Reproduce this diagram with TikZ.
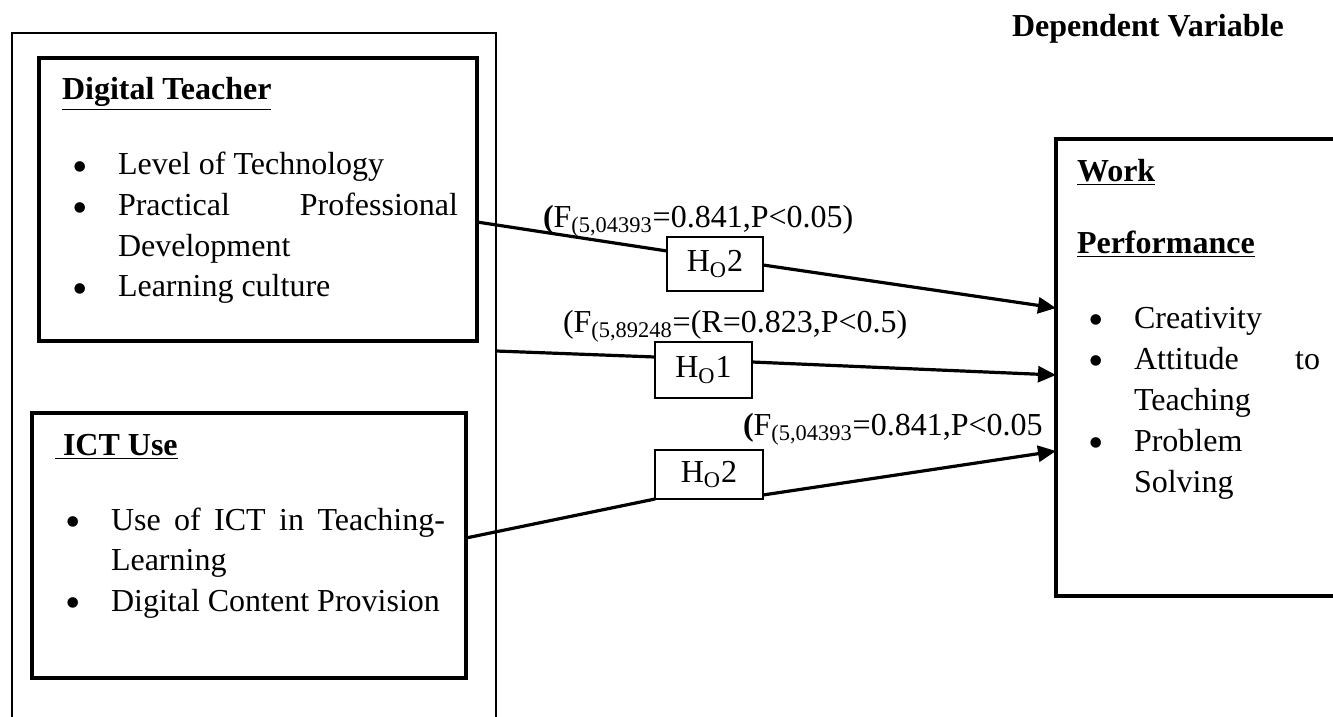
\documentclass[tikz,border=0pt]{standalone}
\usepackage{fontspec}
\setmainfont{Liberation Serif}
\usetikzlibrary{calc}
\usetikzlibrary{arrows.meta}

\newcommand{\itemdot}{\raisebox{-3.3pt}{\fontsize{22}{22}\selectfont\textbullet}}

\begin{document}
\begin{tikzpicture}[
        x=0.5pt, y=-0.5pt,
        every node/.style={inner sep=0pt, outer sep=0pt, font=\fontsize{16}{20.3}\selectfont},
        varbox/.style={draw, line width=1.7pt, anchor=north west},
        heading/.style={anchor=base west, font=\fontsize{16}{20.3}\selectfont\bfseries},
        hyp/.style={draw, line width=0.6pt, fill=white, minimum width=48pt, minimum height=27pt},
        link/.style={line width=1.6pt},
        >={Triangle[length=9pt,width=8pt]}
    ]
        \useasboundingbox (0,0) rectangle (1333,717);
        % frame round the independent variables, open at the bottom
        \node[draw, line width=0.8pt, anchor=north west, minimum width=242pt, minimum height=360pt] (frame) at (12,33) {};
        \node[varbox, minimum width=219pt, minimum height=141.5pt] (dt) at (39,58) {};
        \node[varbox, minimum width=217pt, minimum height=132.5pt] (ict) at (32,413) {};
        \node[varbox, minimum width=150pt, minimum height=228.5pt] (wp) at (1056,139) {};

        \node[heading] (dv) at (1012,37) {Dependent Variable};
        \node[heading] (dttitle) at (62,100) {\underline{Digital Teacher}};
        \node[heading] (icttitle) at (55,455) {\underline{\ ICT Use}};
        \node[heading] (wptitle) at (1077,181) {\underline{Work}};
        \node[heading] (wptitleb) at (1077,253) {\underline{Performance}};

        % bullet lists
        \node[anchor=base west] (dtlist) at (72,175) {\begin{tabular}[t]{@{}p{23pt}@{}p{170pt}@{}}
            \itemdot & Level of Technology\\
            \itemdot & Practical\hfill Professional\newline Development\\
            \itemdot & Learning culture
        \end{tabular}};
        \node[anchor=base west] (ictlist) at (65,530) {\begin{tabular}[t]{@{}p{23pt}@{}p{167pt}@{}}
            \itemdot & Use\hfill of\hfill ICT\hfill in\hfill Teaching-\newline Learning\\
            \itemdot & Digital Content Provision
        \end{tabular}};
        \node[anchor=base west, font=\fontsize{16}{20.5}\selectfont] (wplist) at (1088,328) {\begin{tabular}[t]{@{}p{23pt}@{}p{93pt}@{}}
            \itemdot & Creativity\\
            \itemdot & Attitude\hfill to\newline Teaching\\
            \itemdot & Problem\newline Solving
        \end{tabular}};

        % hypotheses
        \node[hyp] (h2a) at (715,264) {H\textsubscript{O}2};
        \node[hyp, minimum width=48.5pt, minimum height=28pt] (h1) at (703.5,370) {H\textsubscript{O}1};
        \node[hyp, minimum width=54pt, minimum height=24.5pt] (h2b) at (709,474.5) {H\textsubscript{O}2};

        \node[anchor=base west] (st1) at (543,227) {\textbf{(}F\textsubscript{(5,04393}=0.841,P<0.05)};
        \node[anchor=base west] (st2) at (563,332) {(F\textsubscript{(5,89248}=(R=0.823,P<0.5)};
        \node[anchor=base west] (st3) at (743,435) {\textbf{(}F\textsubscript{(5,04393}=0.841,P<0.05};

        \draw[link] (dt.east |- 0,222) -- (h2a.west |- 0,251);
        \draw[link,->] (h2a.east |- 0,265) -- (wp.west |- 0,308);
        \draw[link] (frame.east |- 0,351) -- (h1.west |- 0,357);
        \draw[link,->] (h1.east |- 0,362) -- (wp.west |- 0,375);
        \draw[link] (ict.east |- 0,538) -- (h2b.south west);
        \draw[link,->] (h2b.east |- 0,495) -- (wp.west |- 0,451);
    \end{tikzpicture}
\end{document}
